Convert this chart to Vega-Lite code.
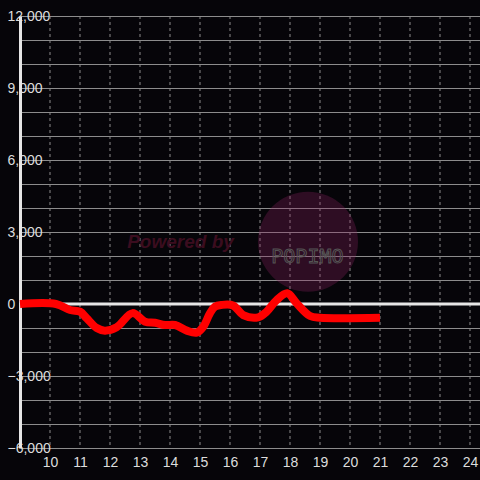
{
  "$schema": "https://vega.github.io/schema/vega-lite/v6.json",
  "width": 460,
  "height": 432,
  "autosize": {"type": "none"},
  "padding": {"left": 20, "top": 16, "right": 0, "bottom": 32},
  "background": "#060509",
  "config": {"view": {"stroke": null}, "font": "Liberation Sans"},
  "datasets": {
    "series": [
      {"hour": 9, "value": 0},
      {"hour": 10.2, "value": 0},
      {"hour": 10.67, "value": -250},
      {"hour": 11, "value": -320},
      {"hour": 11.22, "value": -590},
      {"hour": 11.56, "value": -1000},
      {"hour": 11.83, "value": -1110},
      {"hour": 12.22, "value": -970},
      {"hour": 12.75, "value": -380},
      {"hour": 13.17, "value": -735},
      {"hour": 13.5, "value": -780},
      {"hour": 13.83, "value": -875},
      {"hour": 14.17, "value": -875},
      {"hour": 14.56, "value": -1110},
      {"hour": 14.89, "value": -1195},
      {"hour": 15.11, "value": -945},
      {"hour": 15.33, "value": -390},
      {"hour": 15.5, "value": -110},
      {"hour": 15.72, "value": -40},
      {"hour": 16.1, "value": -60},
      {"hour": 16.44, "value": -460},
      {"hour": 16.94, "value": -555},
      {"hour": 17.22, "value": -320},
      {"hour": 17.56, "value": 170},
      {"hour": 17.91, "value": 445},
      {"hour": 18.22, "value": 30},
      {"hour": 18.67, "value": -500},
      {"hour": 19, "value": -570},
      {"hour": 21, "value": -570}
    ],
    "hours": [
      {"hour": 10}, {"hour": 11}, {"hour": 12}, {"hour": 13}, {"hour": 14},
      {"hour": 15}, {"hour": 16}, {"hour": 17}, {"hour": 18}, {"hour": 19},
      {"hour": 20}, {"hour": 21}, {"hour": 22}, {"hour": 23}, {"hour": 24}
    ]
  },
  "layer": [
    {
      "data": {"name": "series"},
      "mark": {"type": "line", "color": "#ff0000", "strokeWidth": 8, "opacity": 0},
      "encoding": {
        "x": {
          "field": "hour", "type": "quantitative",
          "scale": {"domain": [9, 24.333], "nice": false, "zero": false},
          "axis": {
            "values": [10, 11, 12, 13, 14, 15, 16, 17, 18, 19, 20, 21, 22, 23, 24],
            "tickCount": 15, "format": "d",
            "grid": false,
            "domain": false, "ticks": false, "title": null, "labelOverlap": false,
            "labelColor": "#dddddd", "labelFontSize": 14, "labelPadding": 7, "labelFlush": false
          }
        },
        "y": {
          "field": "value", "type": "quantitative",
          "scale": {"domain": [-6000, 12000], "nice": false},
          "axis": {
            "values": [-6000, -5000, -4000, -3000, -2000, -1000, 0, 1000, 2000, 3000, 4000, 5000, 6000, 7000, 8000, 9000, 10000, 11000, 12000],
            "tickCount": 19,
            "labelExpr": "datum.value % 3000 === 0 ? format(datum.value, ',') : ''",
            "grid": true, "gridColor": "#8c8c8c", "gridWidth": 1,
            "domain": true, "domainColor": "#e6e6e6", "domainWidth": 3,
            "ticks": false, "title": null, "labelOverlap": false,
            "labelColor": "#dddddd", "labelFontSize": 14, "labelAlign": "left", "labelBaseline": "middle",
            "labelPadding": 13, "labelFlush": false
          }
        }
      }
    },
    {
      "data": {"name": "hours"},
      "mark": {"type": "rule", "color": "#8c8c8c", "strokeWidth": 1, "strokeDash": [3, 3]},
      "encoding": {
        "x": {"field": "hour", "type": "quantitative"}
      }
    },
    {
      "data": {"values": [{"hour": 18.6, "value": 2596}]},
      "mark": {"type": "point", "shape": "circle", "filled": true, "size": 10000, "color": "#8c2060", "opacity": 0.3},
      "encoding": {
        "x": {"field": "hour", "type": "quantitative"},
        "y": {"field": "value", "type": "quantitative"}
      }
    },
    {
      "data": {"values": [{"hour": 14.35, "value": 2604, "label": "Powered by"}]},
      "mark": {"type": "text", "fontSize": 19, "fontWeight": "bold", "fontStyle": "italic", "color": "#3b0d1f", "align": "center", "baseline": "middle"},
      "encoding": {
        "x": {"field": "hour", "type": "quantitative"},
        "y": {"field": "value", "type": "quantitative"},
        "text": {"field": "label"}
      }
    },
    {
      "data": {"values": [{"hour": 18.58, "value": 1938, "label": "POPIMO"}]},
      "mark": {"type": "text", "font": "DejaVu Sans Mono", "fontSize": 20, "fill": "transparent", "stroke": "#555555", "strokeWidth": 1, "align": "center", "baseline": "middle"},
      "encoding": {
        "x": {"field": "hour", "type": "quantitative"},
        "y": {"field": "value", "type": "quantitative"},
        "text": {"field": "label"}
      }
    },
    {
      "data": {"values": [{"value": 0}]},
      "mark": {"type": "rule", "color": "#e6e6e6", "strokeWidth": 3},
      "encoding": {
        "y": {"field": "value", "type": "quantitative"}
      }
    },
    {
      "data": {"name": "series"},
      "mark": {"type": "line", "color": "#ff0000", "strokeWidth": 8, "interpolate": "catmull-rom", "strokeJoin": "round"},
      "encoding": {
        "x": {"field": "hour", "type": "quantitative"},
        "y": {"field": "value", "type": "quantitative"}
      }
    }
  ]
}
